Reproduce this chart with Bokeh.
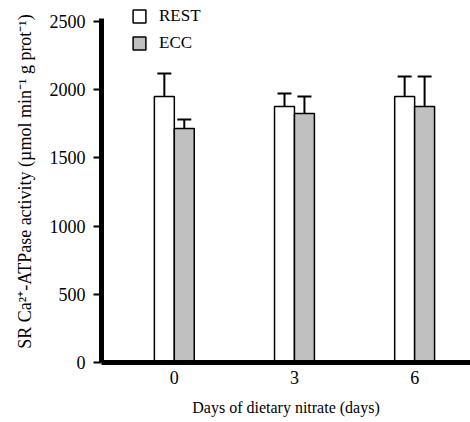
from bokeh.plotting import figure
from bokeh.models import ColumnDataSource, Whisker, TeeHead, Legend, LegendItem, FixedTicker, Range1d, Title
from bokeh.embed import file_html
from bokeh.resources import INLINE

days = ["0", "3", "6"]
rest = [1950, 1877, 1950]
rest_err = [169, 95, 147]
ecc = [1716, 1826, 1877]
ecc_err = [66, 124, 220]
yticks = [0, 500, 1000, 1500, 2000, 2500]

FONT = "Liberation Serif"

idx = list(range(len(days)))
off = 0.083
bw = 0.166

src_rest = ColumnDataSource(dict(x=[i - off for i in idx], top=rest,
                                 upper=[v + e for v, e in zip(rest, rest_err)]))
src_ecc = ColumnDataSource(dict(x=[i + off for i in idx], top=ecc,
                                upper=[v + e for v, e in zip(ecc, ecc_err)]))

p = figure(width=470, height=422, output_backend="svg", toolbar_location=None,
           x_range=Range1d(-0.606, 2.465), y_range=Range1d(0, 2654),
           min_border_left=100, min_border_right=0, min_border_top=0, min_border_bottom=60)
p.outline_line_color = None
p.grid.visible = False
p.background_fill_color = "white"
p.border_fill_color = "white"

for src in (src_rest, src_ecc):
    w = Whisker(source=src, base="x", lower="top", upper="upper", dimension="height",
                line_color="black", line_width=2,
                upper_head=TeeHead(size=14, line_width=2, line_color="black"),
                lower_head=None, level="underlay")
    p.add_layout(w)

r1 = p.vbar(x="x", top="top", width=bw, source=src_rest, fill_color="white",
            line_color="black", line_width=1.5)
r2 = p.vbar(x="x", top="top", width=bw, source=src_ecc, fill_color="#c0c0c0",
            line_color="black", line_width=1.5)

legend = Legend(items=[LegendItem(label="REST", renderers=[r1]),
                       LegendItem(label="ECC", renderers=[r2])],
                location=(30, 309), orientation="vertical",
                glyph_width=16, glyph_height=16, spacing=7, padding=0, margin=0,
                label_text_font=FONT, label_text_font_size="17px",
                label_text_color="black",
                label_standoff=12, border_line_color=None, background_fill_alpha=0)
p.add_layout(legend, "center")

# axes
p.xaxis.ticker = FixedTicker(ticks=idx)
p.xaxis.major_label_overrides = {i: d for i, d in zip(idx, days)}
p.xaxis.axis_label = "Days of dietary nitrate (days)"
p.yaxis.ticker = FixedTicker(ticks=yticks)
p.yaxis.bounds = (0, 2522)

ylab = Title(text="SR Ca²⁺-ATPase activity (µmol min⁻¹ g prot⁻¹)", align="center",
             offset=-12, standoff=24, text_font=FONT, text_font_size="18px",
             text_font_style="normal", text_color="black")
p.add_layout(ylab, "left")

for ax in (p.xaxis, p.yaxis):
    ax.axis_line_width = 5
    ax.axis_line_color = "black"
    ax.major_label_text_font = FONT
    ax.major_label_text_font_size = "18px"
    ax.axis_label_text_font = FONT
    ax.axis_label_text_font_style = "normal"
    ax.minor_tick_line_color = None
    ax.major_label_text_color = "black"
    ax.axis_label_text_color = "black"

p.xaxis.axis_label_text_font_size = "16px"

p.xaxis.major_tick_line_color = None
p.xaxis.major_tick_out = 0
p.xaxis.major_tick_in = 0
p.xaxis.major_label_standoff = 8
p.xaxis.axis_label_standoff = 12

p.yaxis.major_tick_out = 8
p.yaxis.major_tick_in = 0
p.yaxis.major_tick_line_width = 2
p.yaxis.major_label_standoff = 8

open("out.html", "w").write(file_html(p, INLINE))
